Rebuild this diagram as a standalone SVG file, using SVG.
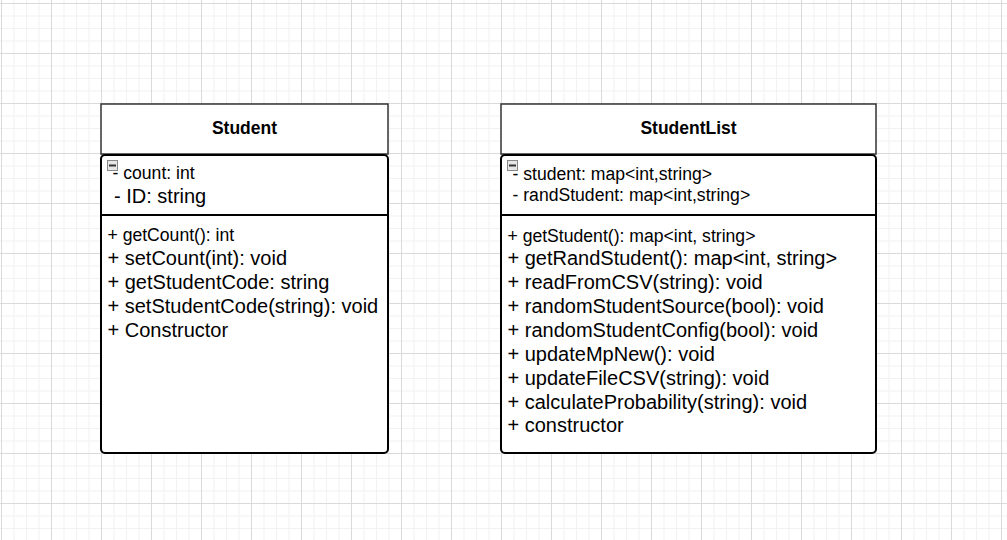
<svg xmlns="http://www.w3.org/2000/svg" width="1007" height="540" viewBox="0 0 1007 540">
<defs>
<pattern id="grid" patternUnits="userSpaceOnUse" x="1" y="3" width="50" height="50">
<rect x="12.5" y="0" width="1" height="50" fill="#f2f2f2"/>
<rect x="25" y="0" width="1" height="50" fill="#f2f2f2"/>
<rect x="37.5" y="0" width="1" height="50" fill="#f2f2f2"/>
<rect x="0" y="12.5" width="50" height="1" fill="#f2f2f2"/>
<rect x="0" y="25" width="50" height="1" fill="#f2f2f2"/>
<rect x="0" y="37.5" width="50" height="1" fill="#f2f2f2"/>
<rect x="0" y="0" width="1" height="50" fill="#dadada"/>
<rect x="0" y="0" width="50" height="1" fill="#dadada"/>
</pattern>
</defs>
<style>
.hdr{fill:#ffffff;stroke:#333333;stroke-width:1.5}
.body{fill:#ffffff;stroke:#000000;stroke-width:2}
.div{stroke:#000000;stroke-width:2}
.title{font-family:"Liberation Sans",Arial,sans-serif;font-weight:bold;font-size:17.5px;fill:#000;text-anchor:middle}
.s{font-family:"Liberation Sans",Arial,sans-serif;font-size:17.6px;fill:#000}
.l{font-family:"Liberation Sans",Arial,sans-serif;font-size:20px;fill:#000}
.ico{fill:#e6e6e6;stroke:#888888;stroke-width:1}
.icol{stroke:#333333;stroke-width:2}
</style>
<rect x="0" y="0" width="1007" height="540" fill="#ffffff"/>
<rect x="0" y="0" width="1007" height="540" fill="url(#grid)"/>
<g id="connectors"></g>
<g id="Student">
<rect class="hdr" x="101" y="104" width="287" height="50"/>
<text class="title" x="244.5" y="134">Student</text>
<rect class="body" x="101" y="155" width="287" height="298" rx="4" ry="4"/>
<line class="div" x1="101" y1="215" x2="388" y2="215"/>
<rect class="ico" x="107.5" y="160.5" width="10" height="10"/>
<line class="icol" x1="109" y1="165.5" x2="116" y2="165.5"/>
<text class="s" x="112.5" y="179">- count: int</text>
<text class="l" x="114" y="202.5">- ID: string</text>
<text class="s" x="107.5" y="241">+ getCount(): int</text>
<text class="l" x="107.5" y="264.5">+ setCount(int): void</text>
<text class="l" x="107.5" y="288.5">+ getStudentCode: string</text>
<text class="l" x="107.5" y="312.5">+ setStudentCode(string): void</text>
<text class="l" x="107.5" y="336.5">+ Constructor</text>
</g>
<g id="StudentList">
<rect class="hdr" x="501" y="104" width="375" height="50"/>
<text class="title" x="688.5" y="134">StudentList</text>
<rect class="body" x="501" y="155" width="375" height="298" rx="4" ry="4"/>
<line class="div" x1="501" y1="215" x2="876" y2="215"/>
<rect class="ico" x="507.5" y="160.5" width="10" height="10"/>
<line class="icol" x1="509" y1="165.5" x2="516" y2="165.5"/>
<text class="s" x="512.5" y="180">- student: map&lt;int,string&gt;</text>
<text class="s" x="512.5" y="200.5">- randStudent: map&lt;int,string&gt;</text>
<text class="s" x="507.5" y="241.5">+ getStudent(): map&lt;int, string&gt;</text>
<text class="l" x="507.5" y="264.5">+ getRandStudent(): map&lt;int, string&gt;</text>
<text class="l" x="507.5" y="288.5">+ readFromCSV(string): void</text>
<text class="l" x="507.5" y="312.5">+ randomStudentSource(bool): void</text>
<text class="l" x="507.5" y="336.5">+ randomStudentConfig(bool): void</text>
<text class="l" x="507.5" y="360.5">+ updateMpNew(): void</text>
<text class="l" x="507.5" y="384.5">+ updateFileCSV(string): void</text>
<text class="l" x="507.5" y="408.5">+ calculateProbability(string): void</text>
<text class="l" x="507.5" y="432">+ constructor</text>
</g>
</svg>
